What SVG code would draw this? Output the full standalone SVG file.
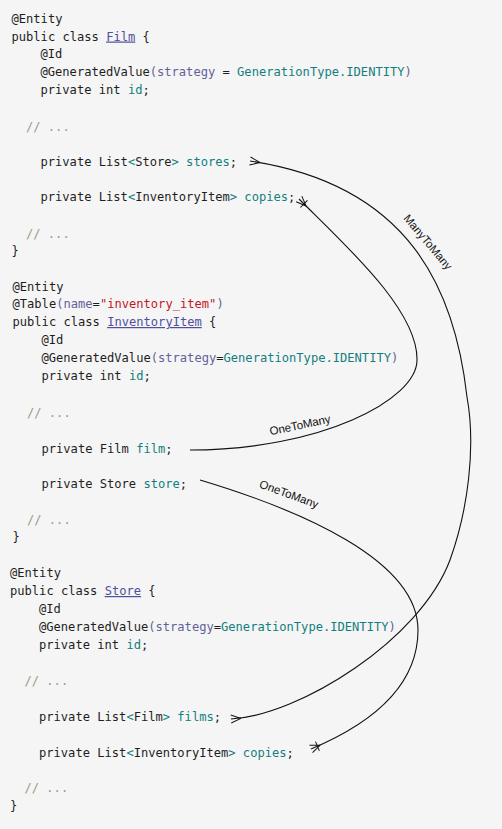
<svg xmlns="http://www.w3.org/2000/svg" width="502" height="829" viewBox="0 0 502 829">
<style>
.code{font-family:"DejaVu Sans Mono","Liberation Mono",monospace;font-size:12.1px;fill:#1e1e1e;white-space:pre}
.cls{fill:#4f4f9e;text-decoration:underline}
.prm{fill:#62629a}
.tl{fill:#127e80}
.str{fill:#c4162a}
.cm{fill:#9a9a82}
.lbl{font-family:"Liberation Sans",Arial,sans-serif;font-size:11.5px;fill:#111;text-anchor:middle}
.conn{fill:none;stroke:#111;stroke-width:1.1}
</style>
<defs>
<marker id="crow" markerUnits="userSpaceOnUse" markerWidth="14" markerHeight="12" viewBox="0 0 14 12" refX="12" refY="6" orient="auto-start-reverse" overflow="visible">
<path d="M2,6 L12,2 M2,6 L12,10" fill="none" stroke="#111" stroke-width="1"/>
</marker>
<marker id="crowbar" markerUnits="userSpaceOnUse" markerWidth="14" markerHeight="12" viewBox="0 0 14 12" refX="12" refY="6" orient="auto-start-reverse" overflow="visible">
<path d="M2,6 L12,2 M2,6 L12,10 M5,1 L5,11" fill="none" stroke="#111" stroke-width="1"/>
</marker>
</defs>
<rect x="0" y="0" width="502" height="829" fill="#f5f5f5"/>

<g id="film" class="code" xml:space="preserve">
<text x="11.5" y="22.5">@Entity</text>
<text x="11.5" y="40.5">public class <tspan class="cls">Film</tspan> {</text>
<text x="40.5" y="58">@Id</text>
<text x="40.5" y="76">@GeneratedValue<tspan class="prm">(strategy</tspan> = <tspan class="tl">GenerationType.IDENTITY</tspan><tspan class="prm">)</tspan></text>
<text x="40.5" y="94">private int <tspan class="tl">id</tspan>;</text>
<text x="26" y="131" class="cm">// ...</text>
<text x="40.5" y="166">private List<tspan class="tl">&lt;</tspan>Store<tspan class="tl">&gt; stores</tspan>;</text>
<text x="40.5" y="201">private List<tspan class="tl">&lt;</tspan>InventoryItem<tspan class="tl">&gt; copies</tspan>;</text>
<text x="26" y="238" class="cm">// ...</text>
<text x="11.5" y="255">}</text>
</g>

<g id="inventoryitem" class="code" xml:space="preserve">
<text x="12.5" y="290.5">@Entity</text>
<text x="12.5" y="308">@Table<tspan class="prm">(name</tspan>=<tspan class="str">"inventory_item"</tspan><tspan class="prm">)</tspan></text>
<text x="12.5" y="326">public class <tspan class="cls">InventoryItem</tspan> {</text>
<text x="41.5" y="344">@Id</text>
<text x="41.5" y="362">@GeneratedValue<tspan class="prm">(strategy</tspan>=<tspan class="tl">GenerationType.IDENTITY</tspan><tspan class="prm">)</tspan></text>
<text x="41.5" y="380">private int <tspan class="tl">id</tspan>;</text>
<text x="27" y="417" class="cm">// ...</text>
<text x="41.5" y="453">private Film <tspan class="tl">film</tspan>;</text>
<text x="41.5" y="488">private Store <tspan class="tl">store</tspan>;</text>
<text x="27" y="524" class="cm">// ...</text>
<text x="12.5" y="541">}</text>
</g>

<g id="store" class="code" xml:space="preserve">
<text x="10" y="577">@Entity</text>
<text x="10" y="595">public class <tspan class="cls">Store</tspan> {</text>
<text x="39" y="613">@Id</text>
<text x="39" y="631">@GeneratedValue<tspan class="prm">(strategy</tspan>=<tspan class="tl">GenerationType.IDENTITY</tspan><tspan class="prm">)</tspan></text>
<text x="39" y="648.5">private int <tspan class="tl">id</tspan>;</text>
<text x="24.5" y="685" class="cm">// ...</text>
<text x="39" y="721">private List<tspan class="tl">&lt;</tspan>Film<tspan class="tl">&gt; films</tspan>;</text>
<text x="39" y="757">private List<tspan class="tl">&lt;</tspan>InventoryItem<tspan class="tl">&gt; copies</tspan>;</text>
<text x="24.5" y="792" class="cm">// ...</text>
<text x="10" y="810">}</text>
</g>

<g id="connectors">
<path class="conn" d="M250,161 C410,185 455,290 467,397 C476,447 468,510 450,560 C420,640 300,715 231,719" marker-start="url(#crow)" marker-end="url(#crow)"/>
<path class="conn" d="M299,199 C345,245 418,310 417,360 C417,400 320,450 190,450" marker-start="url(#crowbar)"/>
<path class="conn" d="M200,480 C300,510 418,560 418,630 C418,680 380,720 311,749" marker-end="url(#crowbar)"/>
<text class="lbl" transform="translate(428,242) rotate(50)" y="4">ManyToMany</text>
<text class="lbl" transform="translate(300,425) rotate(-12)" y="4">OneToMany</text>
<text class="lbl" transform="translate(289,494) rotate(20)" y="4">OneToMany</text>
</g>
</svg>
